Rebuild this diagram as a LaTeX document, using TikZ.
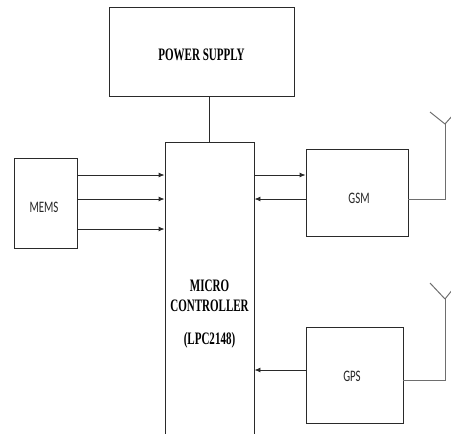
\documentclass[tikz,border=0pt]{standalone}
\usepackage{fontspec}
\usetikzlibrary{arrows.meta}
\newfontfamily\boxserif[FakeStretch=0.63]{Liberation Serif}
\newfontfamily\boxsans[FakeStretch=0.68]{Carlito}
\definecolor{edge}{HTML}{2A2A2A}
\definecolor{ant}{HTML}{6E6E6E}
\tikzset{
  blk/.style={draw=edge, line width=0.9pt, rectangle, inner sep=0pt},
  sertext/.style={font=\boxserif\bfseries\fontsize{17.5}{20.5}\selectfont, text=black, align=center, inner sep=0pt},
  sanstext/.style={font=\boxsans\fontsize{16}{19}\selectfont, text=black!85, inner sep=0pt},
  arr/.style={draw=edge, line width=0.9pt, -{Latex[length=6pt,width=5pt]}},
  wire/.style={draw=edge, line width=0.9pt},
  antline/.style={draw=ant, line width=1pt}
}
\begin{document}
\begin{tikzpicture}[x=1pt,y=-1pt]
\useasboundingbox (0,0) rectangle (451,434);
\clip (0,0) rectangle (451,434);
% blocks
\node[blk, minimum width=185, minimum height=89] (power) at (201.5,51.5) {};
\node[sertext] (powertext) at (201.5,55) {POWER SUPPLY};
\node[blk, minimum width=89, minimum height=300] (mc) at (209.5,292) {};
\node[sertext] (mctext) at (209.5,314) {MICRO\\CONTROLLER\\[12pt](LPC2148)};
\node[blk, minimum width=63, minimum height=90] (mems) at (45.5,203) {};
\node[sanstext] (memstext) at (44,207) {MEMS};
\node[blk, minimum width=102, minimum height=87] (gsm) at (357,192.5) {};
\node[sanstext] (gsmtext) at (359,198) {GSM};
\node[blk, minimum width=97, minimum height=96] (gps) at (354.5,375) {};
\node[sanstext] (gpstext) at (352,376) {GPS};
% row levels
\coordinate (r1) at (0,175);
\coordinate (r2) at (0,199);
\coordinate (r3) at (0,229);
\coordinate (r4) at (0,370);
\coordinate (r5) at (0,380);
% power to controller
\draw[wire] (mc.north) -- (mc.north |- power.south);
% MEMS arrows
\draw[arr] (mems.east |- r1) -- (mc.west |- r1);
\draw[arr] (mems.east |- r2) -- (mc.west |- r2);
\draw[arr] (mems.east |- r3) -- (mc.west |- r3);
% GSM arrows
\draw[arr] (mc.east |- r1) -- (gsm.west |- r1);
\draw[arr] (gsm.west |- r2) -- (mc.east |- r2);
% GPS arrow
\draw[arr] (gps.west |- r4) -- (mc.east |- r4);
% antennas
\coordinate (ant1) at (445,124);
\coordinate (ant2) at (445,299);
\draw[antline] (gsm.east |- r2) -| (ant1);
\draw[antline] (ant1) -- ++(-15,-12);
\draw[antline] (ant1) -- ++(8,-9);
\draw[antline] (gps.east |- r5) -| (ant2);
\draw[antline] (ant2) -- ++(-15,-16);
\draw[antline] (ant2) -- ++(8,-10);
\end{tikzpicture}
\end{document}
